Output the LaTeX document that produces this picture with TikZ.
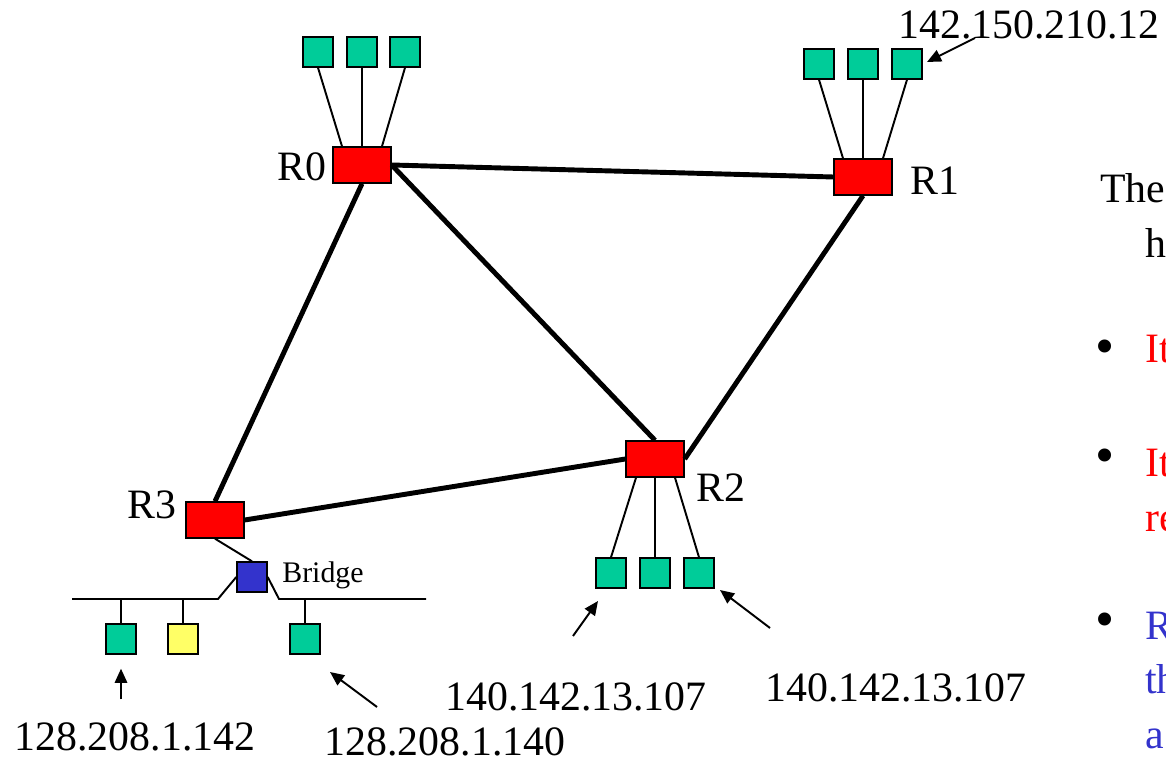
\documentclass[tikz,border=0pt]{standalone}
\usepackage{fontspec}
\setmainfont{Liberation Serif}
\usepackage{xcolor}
\usetikzlibrary{arrows.meta}
\definecolor{routerred}{RGB}{255,0,0}
\definecolor{hostgreen}{RGB}{0,204,153}
\definecolor{hostyellow}{RGB}{255,255,102}
\definecolor{bridgeblue}{RGB}{51,51,204}

\begin{document}
\begin{tikzpicture}[x=0.02cm, y=-0.02cm, font=\fontsize{23.8}{28.6}\selectfont,
        router/.style={draw, fill=routerred, line width=0.8pt, minimum width=1.16cm, minimum height=0.72cm, inner sep=0pt},
        host/.style={draw, fill=hostgreen, line width=0.8pt, minimum size=0.6cm, inner sep=0pt},
        addr/.style={inner sep=0pt},
        dotmark/.style={inner sep=0pt, anchor=base west, font=\fontsize{31}{36}\selectfont},
        trunk/.style={line width=2.8pt},
        wire/.style={line width=1.1pt},
        pointer/.style={line width=1.1pt, -{Triangle[length=8pt, width=7pt]}}]
        \useasboundingbox (0,0) rectangle (1166,759);
        \clip (0,0) rectangle (1166,759);
        % Routers
        \node [router] (r0) at (362,165) {};
        \node [router] (r1) at (863,177) {};
        \node [router] (r2) at (655,459) {};
        \node [router] (r3) at (215,520) {};
        \node [addr] (r0name) at (302,167) {R0};
        \node [addr] (r1name) at (935,181) {R1};
        \node [addr] (r2name) at (721,488) {R2};
        \node [addr] (r3name) at (152,505) {R3};
        % Hosts
        \node [host] (h00) at (318,52) {};
        \node [host] (h01) at (362,52) {};
        \node [host] (h02) at (405,52) {};
        \node [host] (h10) at (819,64) {};
        \node [host] (h11) at (863,64) {};
        \node [host] (h12) at (907,64) {};
        \node [host] (h20) at (611,573) {};
        \node [host] (h21) at (655,573) {};
        \node [host] (h22) at (699,573) {};
        \node [host] (h30) at (121,639) {};
        \node [host, fill=hostyellow] (h31) at (183,639) {};
        \node [host] (h32) at (305,639) {};
        % Bridge
        \node [host, fill=bridgeblue] (bridge) at (252,577) {};
        \node [addr, anchor=base west, font=\fontsize{17}{20}\selectfont] (bridgename) at (282,583) {Bridge};
        % Links between routers
        \draw [trunk] (r0.east) -- (r1.west);
        \draw [trunk] (r0.east) -- (r2.north);
        \draw [trunk] (r0.south) -- (r3.north);
        \draw [trunk] (r1.south) -- (r2.east);
        \draw [trunk] (r2.west) -- (r3.east);
        % Host wires
        \draw [wire] ([xshift=-0.4cm]r0.north) -- (h00.south);
        \draw [wire] (r0.north) -- (h01.south);
        \draw [wire] ([xshift=0.4cm]r0.north) -- (h02.south);
        \draw [wire] ([xshift=-0.4cm]r1.north) -- (h10.south);
        \draw [wire] (r1.north) -- (h11.south);
        \draw [wire] ([xshift=0.4cm]r1.north) -- (h12.south);
        \draw [wire] ([xshift=-0.38cm]r2.south) -- (h20.north);
        \draw [wire] (r2.south) -- (h21.north);
        \draw [wire] ([xshift=0.4cm]r2.south) -- (h22.north);
        % LAN behind the bridge
        \coordinate (busw) at (72,599);
        \coordinate (bendw) at (218,599);
        \coordinate (bende) at (279,599);
        \coordinate (buse) at (426,599);
        \draw [wire] (r3.south) -- (bridge.north);
        \draw [wire] (busw) -- (bendw) -- (bridge.west);
        \draw [wire] (bridge.east) -- (bende) -- (buse);
        \draw [wire] (h30.north) -- (h30.north |- busw);
        \draw [wire] (h31.north) -- (h31.north |- busw);
        \draw [wire] (h32.north) -- (h32.north |- busw);
        % Addresses
        \node [addr] (a12) at (1029,25) {142.150.210.12};
        \node [addr] (a142) at (135,737) {128.208.1.142};
        \node [addr] (a140) at (445,742) {128.208.1.140};
        \node [addr] (a107l) at (576,697) {140.142.13.107};
        \node [addr] (a107r) at (896,688) {140.142.13.107};
        \coordinate (t12) at (975,38);
        \coordinate (p12) at (927,62);
        \coordinate (t140) at (377,707);
        \coordinate (p140) at (330,672);
        \coordinate (t107l) at (573,636);
        \coordinate (p107l) at (598,601);
        \coordinate (t107r) at (770,628);
        \coordinate (p107r) at (720,590);
        \draw [pointer] (t12) -- (p12);
        \draw [pointer, shorten <=0.46cm, shorten >=0.28cm] (a142.north -| h30) -- (h30);
        \draw [pointer] (t140) -- (p140);
        \draw [pointer] (t107l) -- (p107l);
        \draw [pointer] (t107r) -- (p107r);
        % Text at the right
        \node [addr, anchor=base west] (intro1) at (1100,203) {The};
        \node [addr, anchor=base west] (intro2) at (1145,258) {h};
        \node [dotmark] (dot1) at (1095,365) {\textbullet};
        \node [addr, anchor=base west, text=red] (pt1) at (1145,363) {It};
        \node [dotmark] (dot2) at (1095,474) {\textbullet};
        \node [addr, anchor=base west, text=red] (pt2a) at (1145,477) {It};
        \node [addr, anchor=base west, text=red] (pt2b) at (1145,532) {re};
        \node [dotmark] (dot3) at (1095,638) {\textbullet};
        \node [addr, anchor=base west, text=bridgeblue] (pt3a) at (1145,640) {R};
        \node [addr, anchor=base west, text=bridgeblue] (pt3b) at (1145,693) {th};
        \node [addr, anchor=base west, text=bridgeblue] (pt3c) at (1145,748) {a};
\end{tikzpicture}
\end{document}
